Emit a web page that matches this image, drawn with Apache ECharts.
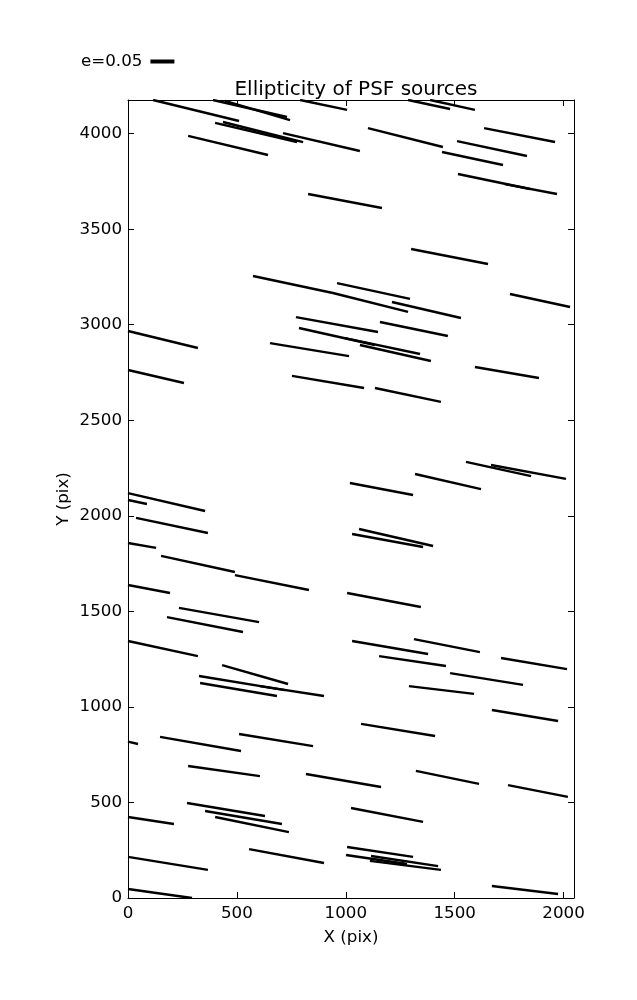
<!DOCTYPE html>
<html>
<head>
<meta charset="utf-8">
<script src="https://cdn.jsdelivr.net/npm/echarts@6/dist/echarts.min.js"></script>
<style>
html,body{margin:0;padding:0;background:#fff;}
#chart{width:637px;height:1000px;}
</style>
</head>
<body>
<div id="chart"></div>
<script>
// Whisker segments in CCD pixel coordinates (start and end of each stick)
var xStart = [115,390,445,790,1286,1387,400,436,712,276,1102,1635,1511,1442,1515,1731,827,1300,574,960,941,1212,1754,771,1157,0,785,996,1065,652,0,1593,753,1134,1552,1667,1318,1019,0,0,37,1061,1029,0,152,491,0,1006,234,179,0,1029,1313,1153,1713,432,1479,326,606,331,1290,1671,1070,0,147,510,276,817,1322,1745,271,354,400,0,1024,556,0,1006,1001,1116,1111,0,1671];
var yStart = [4176,4176,4171,4176,4176,4176,4056,4061,4003,3988,4029,4029,3961,3904,3789,3736,3684,3396,3255,3218,3166,3119,3161,3040,3014,2967,2983,2930,2894,2904,2763,2779,2732,2669,2282,2266,2219,2172,2119,2083,1989,1931,1905,1858,1790,1690,1638,1596,1518,1470,1345,1345,1355,1266,1256,1219,1177,1162,1109,1125,1109,984,911,818,843,858,691,649,665,591,497,455,424,424,471,256,215,267,225,220,194,47,63];
var xEnd   = [510,730,744,1006,1479,1593,776,804,1065,643,1446,1961,1832,1722,1846,1970,1166,1653,941,1295,1286,1529,2030,1148,1469,321,1134,1341,1391,1015,257,1887,1084,1437,1851,2011,1621,1309,354,87,367,1401,1355,129,491,831,193,1345,602,528,321,1378,1616,1460,2016,735,1814,721,900,684,1589,1975,1410,46,519,850,606,1162,1612,2020,629,707,739,211,1355,900,367,1309,1281,1424,1437,294,1975];
var yEnd   = [4066,4087,4071,4124,4129,4124,3956,3956,3909,3888,3930,3956,3883,3836,3710,3684,3611,3318,3166,3135,3067,3035,3093,2962,2941,2878,2894,2847,2810,2836,2695,2721,2669,2596,2208,2193,2140,2109,2025,2062,1910,1842,1837,1832,1706,1612,1596,1523,1444,1392,1266,1277,1287,1214,1198,1120,1115,1088,1057,1057,1068,926,848,806,769,795,638,581,597,529,429,387,345,387,398,183,147,215,178,167,147,0,21];

var xTicks = [0,500,1000,1500,2000];
var yTicks = [0,500,1000,1500,2000,2500,3000,3500,4000];
var xMax = 2048, yMax = 4176;
var keyLabel = 'e=0.05';

var segs = [];
for (var i = 0; i < xStart.length; i++) {
  segs.push({coords: [[xStart[i], yStart[i]], [xEnd[i], yEnd[i]]]});
}

var FONT = 'DejaVu Sans';
var chart = echarts.init(document.getElementById('chart'), null, {renderer:'canvas'});

function plain(v) { return String(v); }

function axisCommon(extra) {
  return Object.assign({
    type: 'value',
    min: 0,
    splitLine: {show:false},
    nameMoveOverlap: false,
    axisLine: {show:true, onZero:false, lineStyle:{color:'#000', width:1}},
  }, extra);
}

chart.setOption({
  animation: false,
  backgroundColor: '#fff',
  title: {
    text: 'Ellipticity of PSF sources',
    left: 351, top: 75, textAlign: 'center',
    textStyle: {fontFamily: FONT, fontSize: 20, fontWeight: 'normal', color: '#000'}
  },
  legend: {
    show: true,
    data: [{name: keyLabel}],
    left: 76, top: 48,
    align: 'right',
    icon: 'rect',
    itemWidth: 22, itemHeight: 2,
    textStyle: {fontFamily: FONT, fontSize: 16.7, color: '#000', padding:[0,4,0,0]},
    itemStyle: {color:'#000'}
  },
  grid: {left: 128, top: 100, width: 446, height: 798, containLabel: false},
  xAxis: [
    axisCommon({
      max: xMax, position: 'bottom',
      name: 'X (pix)', nameLocation: 'middle', nameGap: 31,
      nameTextStyle: {fontFamily: FONT, fontSize: 16.7, color:'#000'},
      axisTick: {show:true, inside:true, length:6, customValues: xTicks, lineStyle:{color:'#000'}},
      axisLabel: {show:true, margin:7, customValues: xTicks, formatter: plain, fontFamily: FONT, fontSize: 16.7, color:'#000'}
    }),
    axisCommon({
      max: xMax, position: 'top',
      axisTick: {show:true, inside:true, length:6, customValues: xTicks, lineStyle:{color:'#000'}},
      axisLabel: {show:false}
    })
  ],
  yAxis: [
    axisCommon({
      max: yMax, position: 'left',
      name: 'Y (pix)', nameLocation: 'middle', nameGap: 56, nameRotate: 90,
      nameTextStyle: {fontFamily: FONT, fontSize: 16.7, color:'#000'},
      axisTick: {show:true, inside:true, length:6, customValues: yTicks, lineStyle:{color:'#000'}},
      axisLabel: {show:true, margin:6, customValues: yTicks, formatter: plain, fontFamily: FONT, fontSize: 16.7, color:'#000'}
    }),
    axisCommon({
      max: yMax, position: 'right',
      axisTick: {show:true, inside:true, length:6, customValues: yTicks, lineStyle:{color:'#000'}},
      axisLabel: {show:false}
    })
  ],
  series: [{
    name: keyLabel,
    type: 'lines',
    coordinateSystem: 'cartesian2d',
    xAxisIndex: 0, yAxisIndex: 0,
    clip: true,
    polyline: false,
    silent: true,
    lineStyle: {color:'#000', width:2.4, opacity:1, curveness:0},
    data: segs
  }]
});
</script>
</body>
</html>
